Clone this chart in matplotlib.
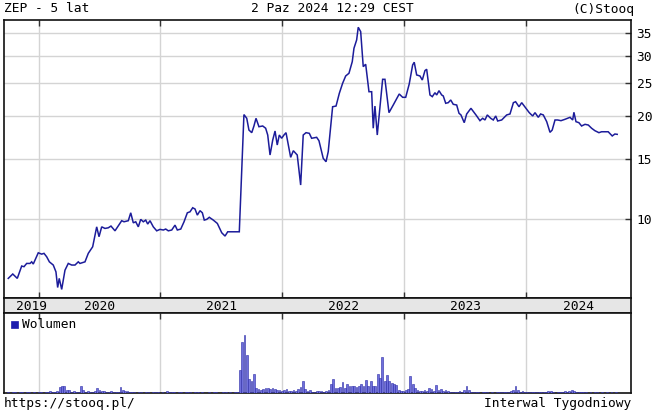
import matplotlib
matplotlib.use('Agg')
import matplotlib.pyplot as plt
from matplotlib.patches import Rectangle

# ---- data (decimal years, PLN) ----
price_t = [2019.752, 2019.789, 2019.826, 2019.862, 2019.881, 2019.903, 2019.930, 2019.944, 2019.957, 2019.998,
           2020.026, 2020.045, 2020.067, 2020.089, 2020.121, 2020.143, 2020.157, 2020.170, 2020.190, 2020.217,
           2020.244, 2020.272, 2020.299, 2020.326, 2020.340, 2020.381, 2020.408, 2020.444, 2020.477, 2020.496,
           2020.518, 2020.545, 2020.572, 2020.594, 2020.627, 2020.682, 2020.701, 2020.736, 2020.756, 2020.777,
           2020.797, 2020.818, 2020.838, 2020.859, 2020.879, 2020.895, 2020.914, 2020.941, 2020.969, 2020.996,
           2021.023, 2021.043, 2021.064, 2021.092, 2021.119, 2021.138, 2021.166, 2021.193, 2021.220, 2021.242,
           2021.264, 2021.283, 2021.302, 2021.324, 2021.343, 2021.359, 2021.379, 2021.400, 2021.433, 2021.466,
           2021.502, 2021.529, 2021.551, 2021.584, 2021.646, 2021.684, 2021.707, 2021.725, 2021.748, 2021.766,
           2021.783, 2021.807, 2021.838, 2021.862, 2021.879, 2021.898, 2021.920, 2021.939, 2021.957, 2021.974,
           2021.993, 2022.012, 2022.029, 2022.048, 2022.067, 2022.089, 2022.121, 2022.149, 2022.170, 2022.193,
           2022.220, 2022.239, 2022.280, 2022.299, 2022.334, 2022.357, 2022.375, 2022.411, 2022.439, 2022.466,
           2022.493, 2022.518, 2022.545, 2022.572, 2022.586, 2022.608, 2022.621, 2022.641, 2022.662, 2022.682,
           2022.709, 2022.731, 2022.744, 2022.758, 2022.777, 2022.821, 2022.840, 2022.873, 2022.908, 2022.957,
           2022.985, 2023.010, 2023.039, 2023.067, 2023.080, 2023.100, 2023.127, 2023.146, 2023.168, 2023.182,
           2023.209, 2023.228, 2023.250, 2023.264, 2023.283, 2023.305, 2023.318, 2023.338, 2023.359, 2023.379,
           2023.400, 2023.428, 2023.447, 2023.463, 2023.490, 2023.510, 2023.545, 2023.586, 2023.619, 2023.641,
           2023.660, 2023.679, 2023.707, 2023.728, 2023.748, 2023.764, 2023.797, 2023.838, 2023.865, 2023.893,
           2023.911, 2023.939, 2023.961, 2024.002, 2024.023, 2024.051, 2024.070, 2024.097, 2024.116, 2024.138,
           2024.166, 2024.193, 2024.211, 2024.234, 2024.256, 2024.283, 2024.316, 2024.357, 2024.379, 2024.389,
           2024.406, 2024.430, 2024.452, 2024.480, 2024.507, 2024.534, 2024.561, 2024.594, 2024.616, 2024.670,
           2024.703, 2024.725, 2024.744]
price = [6.73, 6.93, 6.73, 7.31, 7.28, 7.44, 7.44, 7.52, 7.41, 7.99,
         7.92, 7.96, 7.78, 7.52, 7.36, 7.03, 6.33, 6.73, 6.25, 7.11,
         7.44, 7.36, 7.36, 7.52, 7.44, 7.52, 7.96, 8.32, 9.51, 8.90,
         9.51, 9.41, 9.45, 9.56, 9.26, 9.91, 9.84, 9.91, 10.45, 9.77,
         9.84, 9.51, 10.00, 9.84, 9.95, 9.69, 9.91, 9.51, 9.26, 9.35,
         9.31, 9.37, 9.26, 9.31, 9.62, 9.31, 9.37, 9.84, 10.45, 10.52,
         10.81, 10.72, 10.29, 10.60, 10.45, 9.95, 10.00, 10.14, 9.95, 9.73,
         9.14, 8.94, 9.20, 9.20, 9.20, 20.20, 19.70, 18.21, 17.89, 18.71,
         19.70, 18.62, 18.71, 18.43, 17.61, 15.40, 17.03, 18.09, 16.47, 17.61,
         17.23, 17.61, 17.89, 16.47, 15.16, 15.85, 15.40, 12.59, 17.61, 17.89,
         17.81, 17.23, 17.34, 16.95, 15.06, 14.72, 15.75, 21.29, 21.39, 23.30,
         24.92, 26.17, 26.65, 28.81, 31.52, 33.33, 36.29, 35.24, 27.86, 28.31,
         23.55, 23.55, 18.43, 21.39, 17.61, 25.59, 25.59, 20.46, 21.54, 23.19,
         22.68, 22.68, 24.80, 28.18, 28.70, 26.35, 26.17, 25.47, 27.13, 27.38,
         23.04, 22.78, 23.39, 23.04, 23.71, 23.04, 22.89, 21.79, 21.88, 22.28,
         21.64, 21.54, 20.38, 20.15, 19.13, 20.28, 21.07, 20.15, 19.39, 19.70,
         19.48, 20.15, 19.70, 19.48, 20.01, 19.35, 19.48, 20.15, 20.28, 21.88,
         22.02, 21.29, 21.88, 20.93, 20.46, 20.01, 20.46, 19.83, 20.28, 20.15,
         19.26, 17.93, 18.21, 19.48, 19.48, 19.39, 19.57, 19.83, 19.48, 20.51,
         19.26, 19.13, 18.71, 18.92, 18.83, 18.43, 18.13, 17.89, 18.00, 18.00,
         17.50, 17.73, 17.69]

vol_start = 2019.752          # first weekly bar
volume = [1, 0, 1, 1, 0, 1, 1, 0, 1, 1, 0, 1, 0, 1, 1, 0, 1, 1, 2, 1,
          1, 2, 6, 7, 7, 3, 3, 1, 2, 1, 1, 7, 3, 1, 2, 1, 1, 2, 5, 3,
          2, 2, 1, 1, 2, 1, 1, 1, 6, 3, 2, 2, 1, 1, 1, 0, 1, 1, 0, 1,
          1, 0, 1, 1, 1, 0, 1, 0, 2, 1, 1, 1, 0, 1, 1, 0, 1, 1, 1, 0,
          1, 1, 0, 1, 0, 0, 1, 0, 1, 1, 0, 0, 1, 1, 0, 1, 0, 1, 1, 23,
          51, 58, 38, 14, 12, 19, 5, 4, 3, 4, 5, 5, 4, 5, 4, 3, 3, 2, 3, 4,
          2, 2, 3, 2, 4, 6, 12, 4, 2, 3, 1, 1, 2, 2, 2, 1, 2, 3, 9, 14,
          5, 5, 6, 11, 5, 9, 7, 7, 7, 6, 7, 9, 7, 13, 7, 12, 7, 7, 19, 15,
          36, 12, 18, 12, 10, 9, 8, 3, 2, 2, 3, 4, 17, 9, 5, 3, 2, 2, 3, 2,
          5, 4, 2, 8, 3, 4, 2, 3, 2, 1, 1, 1, 1, 2, 1, 3, 7, 3, 1, 1,
          1, 1, 0, 1, 1, 1, 0, 1, 0, 1, 1, 1, 1, 1, 1, 2, 3, 7, 3, 1,
          2, 1, 1, 1, 1, 1, 1, 1, 1, 1, 1, 2, 2, 1, 0, 1, 1, 1, 2, 1,
          2, 3, 2, 1, 1, 1, 1, 1, 0, 1, 0, 1, 1, 0, 1, 0, 1, 0, 1, 0, 1, 0]

yticks = [10, 15, 20, 25, 30, 35]
years = [2019, 2020, 2021, 2022, 2023, 2024]
year_label_pos = [2019.94, 2020.5, 2021.5, 2022.5, 2023.5, 2024.43]

header_left = "ZEP - 5 lat"
header_mid = "2 Paz 2024 12:29 CEST"
header_right = "(C)Stooq"
footer_left = "https://stooq.pl/"
footer_right = "Interwal Tygodniowy"
legend_label = "Wolumen"

# ---- layout ----
W, H = 655, 413
plt.rcParams['font.family'] = ['DejaVu Sans Mono']
FS = 9.3
LINE = '#1c1c9a'
GRID = '#d4d4d4'

fig = plt.figure(figsize=(W / 100, H / 100), dpi=100)
fig.patch.set_facecolor('white')

def fx(px):
    return px / W

def fy(py):
    return 1 - py / H

L, R = 3.5, 631
XMIN, XMAX = 2019.713, 2024.857

ax = fig.add_axes([fx(L), fy(298), fx(R) - fx(L), fy(20) - fy(298)])
band = fig.add_axes([fx(L), fy(313), fx(R) - fx(L), fy(298) - fy(313)])
axv = fig.add_axes([fx(L), fy(393), fx(R) - fx(L), fy(313) - fy(393)])

# main price panel
ax.plot(price_t, price, color=LINE, lw=1.1, solid_joinstyle='miter', zorder=3)
ax.set_yscale('log')
ax.set_ylim(5.9, 38.1)
ax.set_xlim(XMIN, XMAX)
ax.yaxis.set_major_locator(plt.FixedLocator(yticks))
ax.yaxis.set_minor_locator(plt.NullLocator())
ax.set_yticklabels([str(v) for v in yticks])
ax.yaxis.tick_right()
ax.tick_params(axis='y', which='major', direction='in', length=4, width=1, color='#333333',
               labelsize=FS, pad=4, left=False, right=True)
ax.set_xticks(years[1:])
ax.set_xticklabels([])
ax.tick_params(axis='x', direction='in', length=4, width=1, color='#333333',
               top=True, bottom=True)
ax.grid(True, color=GRID, lw=1)
ax.set_axisbelow(True)
for s in ax.spines.values():
    s.set_linewidth(1.2)
    s.set_color('#111111')

# year band
band.set_xlim(XMIN, XMAX)
band.set_ylim(0, 1)
band.set_facecolor('#e6e6e6')
band.set_xticks([])
band.set_yticks([])
for s in band.spines.values():
    s.set_linewidth(1.2)
    s.set_color('#111111')
for y, xp in zip(years, year_label_pos):
    band.text(xp, 0.45, str(y), ha='center', va='center', fontsize=FS)

# volume panel
vol_t = [vol_start + i * 7 / 365.25 for i in range(len(volume))]
axv.bar(vol_t, volume, width=0.75 * 7 / 365.25, color='#6f6fdc', edgecolor='#2a2aa6',
        linewidth=0.4, zorder=3)
axv.set_xlim(XMIN, XMAX)
axv.set_ylim(0, 80)
axv.set_yticks([])
axv.set_xticks(years[1:])
axv.set_xticklabels([])
axv.tick_params(axis='x', direction='in', length=4, width=1, color='#333333',
                top=True, bottom=False)
axv.grid(True, axis='x', color=GRID, lw=1)
axv.set_axisbelow(True)
for s in axv.spines.values():
    s.set_linewidth(1.2)
    s.set_color('#111111')

# legend
fig.patches.append(Rectangle((fx(10.5), fy(328)), fx(7), 7 / H, transform=fig.transFigure,
                             facecolor='#1c1cae', edgecolor='#1c1cae', lw=0.5))
fig.text(fx(21.5), fy(325), legend_label, ha='left', va='center', fontsize=FS)

# header / footer
fig.text(fx(4), fy(9), header_left, ha='left', va='center', fontsize=FS)
fig.text(fx(332), fy(9), header_mid, ha='center', va='center', fontsize=FS)
fig.text(fx(634), fy(9), header_right, ha='right', va='center', fontsize=FS)
fig.text(fx(4), fy(403), footer_left, ha='left', va='center', fontsize=FS)
fig.text(fx(631), fy(403), footer_right, ha='right', va='center', fontsize=FS)

fig.savefig('out.png', dpi=100, facecolor='white')
